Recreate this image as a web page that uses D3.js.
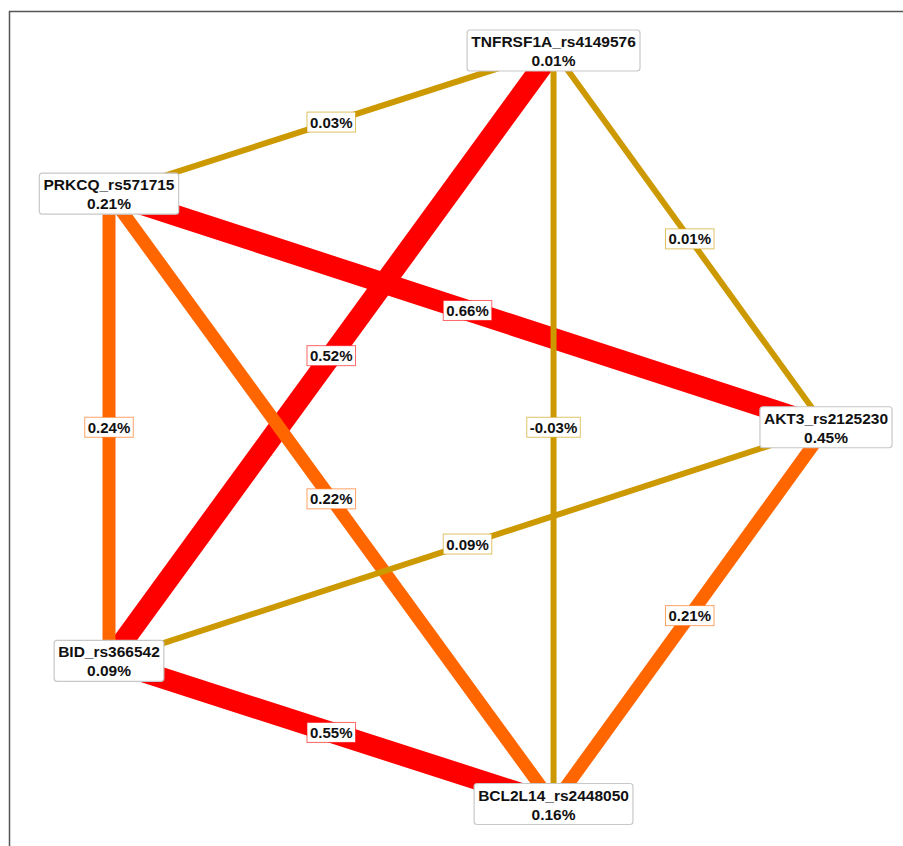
<!DOCTYPE html>
<html>
<head>
<meta charset="utf-8">
<script src="https://cdn.jsdelivr.net/npm/d3@7"></script>
<style>
  body { margin: 0; background: #fff; }
  text { font-family: "Liberation Sans", Arial, sans-serif; font-weight: bold; }
</style>
</head>
<body>
<script>
var w = 903;
var h = 846;

// nodes
var nodeNames = ["TNFRSF1A_rs4149576", "PRKCQ_rs571715", "AKT3_rs2125230", "BID_rs366542", "BCL2L14_rs2448050"];
var nodeValues = [0.01, 0.21, 0.45, 0.09, 0.16];
// layout position of each node, in layout units (-1..1)
var nodeLayoutX = [0.24, -1, 1, -1, 0.24];
var nodeLayoutY = [-1, -0.62, 0, 0.62, 1];

// edges
var edgeSource = [1, 0, 0, 0, 1, 1, 1, 2, 2, 3];
var edgeTarget = [0, 2, 3, 4, 2, 3, 4, 3, 4, 4];
var edgeValues = [0.03, 0.01, 0.52, -0.03, 0.66, 0.24, 0.22, 0.09, 0.21, 0.55];

var nodes = nodeNames.map(function(n, i) {
  return {name: n, value: nodeValues[i], lx: nodeLayoutX[i], ly: nodeLayoutY[i]};
});
var edges = edgeValues.map(function(v, i) {
  return {source: nodes[edgeSource[i]], target: nodes[edgeTarget[i]], value: v};
});
// thin edges drawn on top of thick ones
edges.sort(function(a, b) { return b.value - a.value; });

var x = d3.scaleLinear().domain([-1, 1]).range([109, 826]);
var y = d3.scaleLinear().domain([-1, 1]).range([50.5, 804]);

var colors = d3.scaleThreshold().domain([0.15, 0.45]).range(["#cc9900", "#ff6600", "#ff0000"]);
var widths = d3.scaleThreshold().domain([0.15, 0.45]).range([6, 13, 21]);

// plain hyphen for negatives, like the original
var fmt = function(v) { return (v < 0 ? "-" : "") + Math.abs(v).toFixed(2) + "%"; };

//Create SVG element
var svg = d3.select("body")
            .append("svg")
            .attr("width", w)
            .attr("height", h);

// frame
svg.append("path")
   .attr("d", "M9.5," + h + "V11.5H" + w)
   .style("fill", "none")
   .style("stroke", "#555")
   .style("stroke-width", 1.5);

//Create edges as lines
svg.selectAll("line.edge")
   .data(edges)
   .enter()
   .append("line")
   .attr("class", "edge")
   .attr("x1", function(d) { return x(d.source.lx); })
   .attr("y1", function(d) { return y(d.source.ly); })
   .attr("x2", function(d) { return x(d.target.lx); })
   .attr("y2", function(d) { return y(d.target.ly); })
   .style("stroke", function(d) { return colors(d.value); })
   .style("stroke-width", function(d) { return widths(d.value); });

//Edge labels
var elabels = svg.selectAll("g.elabel")
   .data(edges)
   .enter()
   .append("g")
   .attr("class", "elabel")
   .attr("transform", function(d) {
     return "translate(" + (x(d.source.lx) + x(d.target.lx)) / 2 + "," + (y(d.source.ly) + y(d.target.ly)) / 2 + ")";
   });

var erect = elabels.append("rect")
   .style("fill", "#fff")
   .style("stroke", function(d) { return colors(d.value); })
   .style("stroke-opacity", 0.6)
   .style("stroke-width", 1);

var etext = elabels.append("text")
   .attr("text-anchor", "middle")
   .attr("y", 5.5)
   .style("font-size", "15px")
   .style("fill", "#111")
   .text(function(d) { return fmt(d.value); });

erect.each(function(d, i) {
  var tw = etext.nodes()[i].getComputedTextLength();
  d3.select(this)
    .attr("x", -tw / 2 - 3)
    .attr("y", -10)
    .attr("width", tw + 6)
    .attr("height", 20);
});

//Create nodes as labelled boxes
var gnodes = svg.selectAll("g.node")
   .data(nodes)
   .enter()
   .append("g")
   .attr("class", "node")
   .attr("transform", function(d) { return "translate(" + x(d.lx) + "," + y(d.ly) + ")"; });

var nrect = gnodes.append("rect")
   .attr("rx", 3)
   .style("fill", "#fff")
   .style("stroke", "#c8c8c8")
   .style("stroke-width", 1.2);

var ntext = gnodes.append("text")
   .attr("text-anchor", "middle")
   .style("font-size", "15.5px")
   .style("fill", "#111");
ntext.append("tspan").attr("x", 0).attr("y", -3.5).text(function(d) { return d.name; });
ntext.append("tspan").attr("x", 0).attr("y", 15.5).text(function(d) { return fmt(d.value); });

nrect.each(function(d, i) {
  var tw = ntext.nodes()[i].getBBox().width;
  d3.select(this)
    .attr("x", -tw / 2 - 4)
    .attr("y", -20.5)
    .attr("width", tw + 8)
    .attr("height", 41);
});
</script>
</body>
</html>
